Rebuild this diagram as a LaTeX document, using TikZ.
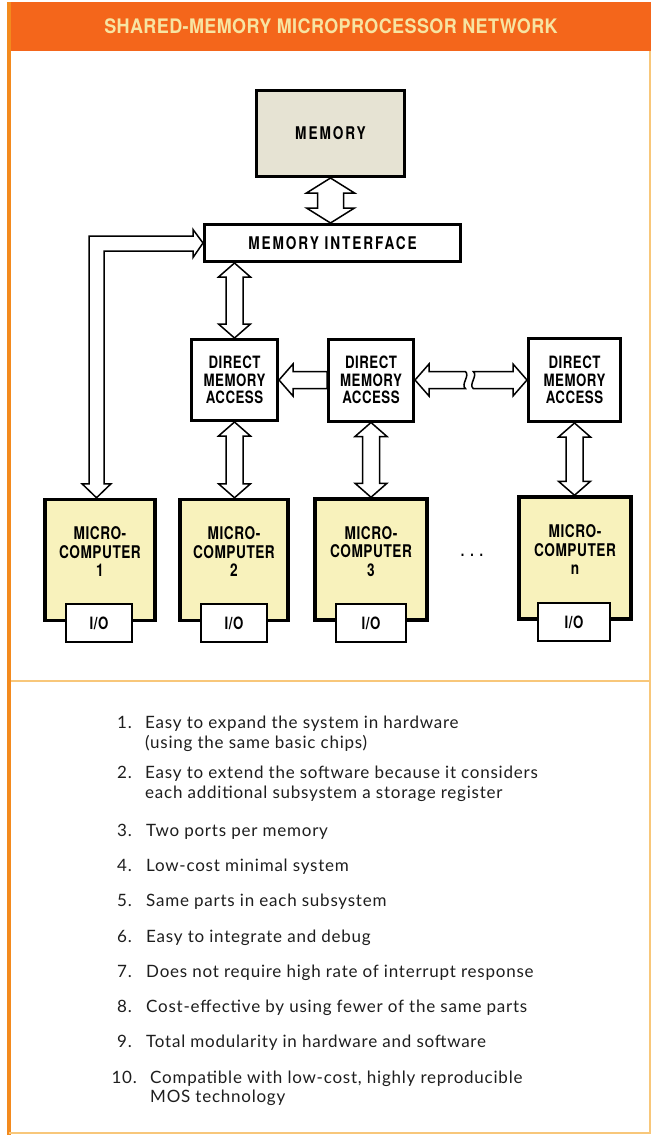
\documentclass[tikz,border=0pt]{standalone}
\usepackage{fontspec}
\setmainfont{Lato}[LetterSpace=4.5]
\newfontfamily\titlefont[FakeStretch=0.9,LetterSpace=2]{TeX Gyre Heros}
\newfontfamily\widefont[FakeStretch=0.78,LetterSpace=11]{TeX Gyre Heros}
\newfontfamily\condfont[FakeStretch=0.78,LetterSpace=3]{TeX Gyre Heros}
\usetikzlibrary{calc}
\definecolor{hdrorange}{HTML}{F4661B}
\definecolor{leftorange}{HTML}{F38A1E}
\definecolor{paleorange}{HTML}{F8C77A}
\definecolor{titleyellow}{HTML}{F7E4A2}
\definecolor{memfill}{HTML}{E6E3D3}
\definecolor{mcfill}{HTML}{F8F2BC}
\definecolor{ink}{HTML}{1E1E1E}
\tikzset{
  blk/.style={draw=black, line width=3pt, inner sep=0pt},
  mcbox/.style={blk, fill=mcfill, line width=3.5pt},
  iobox/.style={draw=black, line width=2pt, fill=white, inner sep=0pt,
    minimum width=66pt, minimum height=38pt, font=\condfont\bfseries\fontsize{17}{18}\selectfont},
  busline/.style={draw=black, line width=1.5pt, fill=white, line join=miter},
  lbl/.style={font=\condfont\bfseries\fontsize{17.5}{18.5}\selectfont, align=center, inner sep=0pt},
  dmalbl/.style={font=\condfont\bfseries\fontsize{17}{17.5}\selectfont, align=center},
  itemtext/.style={anchor=base west, inner sep=0pt, text=ink, font=\fontsize{17}{20}\selectfont},
  itemnum/.style={anchor=base east, inner sep=0pt, text=ink, font=\fontsize{17}{20}\selectfont},
}
% vertical hollow double arrow: #1 top point, #2 bottom reference, #3 head half width, #4 shaft half width, #5 head length
\newcommand\vbus[5]{%
  \coordinate (vt) at (#1);
  \coordinate (vb) at (#1 |- #2);
  \draw[busline] (vt) -- ++(#3,#5) -- ++({#4-#3},0) -- ($(vb)+(#4,-#5)$) -- ++({#3-#4},0)
    -- (vb) -- ++(-#3,-#5) -- ++({#3-#4},0) -- ($(vt)+(-#4,#5)$) -- ++({#4-#3},0) -- cycle;
}
\begin{document}
\begin{tikzpicture}[x=1pt,y=-1pt]
\useasboundingbox (0,0) rectangle (653,1136);
\fill[white] (0,0) rectangle (653,1136);
% frame
\fill[hdrorange] (8,2) rectangle (651,51);
\draw[leftorange, line width=4pt] (9,2) -- (9,1135);
\draw[paleorange, line width=1.5pt] (650,51) -- (650,1134);
\draw[paleorange, line width=2pt] (9,1133) -- (651,1133);
\draw[paleorange, line width=1.5pt] (11,681) -- (651,681);
\node[font=\titlefont\bfseries\fontsize{20}{22}\selectfont, text=titleyellow, inner sep=0pt] (title) at (331,26) {SHARED-MEMORY MICROPROCESSOR NETWORK};

% memory and interface
\node[blk, fill=memfill, minimum width=148pt, minimum height=86pt, font=\widefont\bfseries\fontsize{17.5}{18}\selectfont] (mem) at (330.5,133.5) {MEMORY};
\node[blk, fill=white, minimum width=256pt, minimum height=37pt, font=\widefont\bfseries\fontsize{17.5}{18}\selectfont] (mi) at (332.5,243) {MEMORY INTERFACE};

% DMA units
\node[blk, fill=white, minimum width=86pt, minimum height=81pt, dmalbl] (dma1) at (234.5,380) {DIRECT\\MEMORY\\ACCESS};
\node[blk, fill=white, minimum width=85pt, minimum height=82pt, dmalbl] (dma2) at (371,380) {DIRECT\\MEMORY\\ACCESS};
\node[blk, fill=white, minimum width=92pt, minimum height=83pt, dmalbl] (dman) at (574.5,380) {DIRECT\\MEMORY\\ACCESS};

% microcomputers
\node[mcbox, minimum width=110pt, minimum height=121pt] (mc1) at (100,560) {};
\node[mcbox, minimum width=108pt, minimum height=121pt] (mc2) at (234,560) {};
\node[mcbox, minimum width=112pt, minimum height=121pt] (mc3) at (371,559.5) {};
\node[mcbox, minimum width=112pt, minimum height=122pt] (mcn) at (575,558) {};
\node[lbl] (mc1t) at ($(mc1.center)+(0,-8)$) {MICRO-\\COMPUTER\\1};
\node[lbl] (mc2t) at ($(mc2.center)+(0,-8)$) {MICRO-\\COMPUTER\\2};
\node[lbl] (mc3t) at ($(mc3.center)+(0,-8)$) {MICRO-\\COMPUTER\\3};
\node[lbl] (mcnt) at ($(mcn.center)+(0,-8)$) {MICRO-\\COMPUTER\\n};
\node[iobox] (io1) at (99,623) {I/O};
\node[iobox] (io2) at (234,623) {I/O};
\node[iobox, minimum width=70pt] (io3) at (371,623) {I/O};
\node[iobox, minimum width=72pt] (ion) at (574,622) {I/O};
\node[font=\condfont\bfseries\fontsize{16}{16}\selectfont, anchor=base] (dots) at (472,556) {.\hspace{6pt}.\hspace{6pt}.};

% vertical buses
\vbus{mem.south}{mi.north}{24}{13}{15}
\vbus{dma1.north |- mi.south}{dma1.north}{16}{8.5}{14}
\vbus{dma1.south}{mc2.north}{16}{8.5}{14}
\vbus{dma2.south}{mc3.north}{16}{8.5}{14}
\vbus{dman.south}{mcn.north}{16}{8.5}{14}

% bus from memory interface down to microcomputer 1
\draw[busline] (mi.west) -- ++(-10,-13.5) -- ++(0,6.5) -| ($(mc1.north)+(-11,-14)$)
  -- ++(-7,0) -- ($(mc1.north)+(-3.5,0)$) -- ($(mc1.north)+(11,-14)$) -- ++(-7,0)
  |- ($(mi.west)+(-10,8)$) -- ++(0,6.5) -- cycle;

% horizontal buses between DMA units
\draw[busline] (dma1.east) -- ++(14,-16) -- ++(0,7.5) -- ($(dma2.west |- dma1.east)+(0,-8.5)$)
  -- ++(0,17) -- ($(dma1.east)+(14,8.5)$) -- ++(0,7.5) -- cycle;
\coordinate (brkA) at ($(dma2.east)!0.45!(dman.west)$);
\coordinate (brkB) at ($(dma2.east)!0.52!(dman.west)$);
\draw[busline] (dma2.east) -- ++(14,-16) -- ++(0,7.5) -- ($(brkA)+(0,-8.5)$)
  .. controls +(5,4) and +(-5,-4) .. ($(brkA)+(0,8.5)$) -- ($(dma2.east)+(14,8.5)$) -- ++(0,7.5) -- cycle;
\draw[busline] ($(brkB)+(0,-8.5)$) -- ($(dman.west)+(-14,-8.5)$) -- ++(0,-7.5) -- (dman.west)
  -- ++(-14,16) -- ++(0,-7.5) -- ($(brkB)+(0,8.5)$)
  .. controls +(-5,-4) and +(5,4) .. ($(brkB)+(0,-8.5)$) -- cycle;

% list
\node[itemnum] (n1) at (132,728) {1.};
\node[itemtext] (t1a) at (145,728) {Easy to expand the system in hardware};
\node[itemtext] (t1b) at (145,748) {(using the same basic chips)};
\node[itemnum] (n2) at (132,778) {2.};
\node[itemtext] (t2a) at (145,778) {Easy to extend the software because it considers};
\node[itemtext] (t2b) at (145,798) {each additional subsystem a storage register};
\node[itemnum] (n3) at (132,836) {3.};
\node[itemtext] (t3) at (146,836) {Two ports per memory};
\node[itemnum] (n4) at (132,871) {4.};
\node[itemtext] (t4) at (146,871) {Low-cost minimal system};
\node[itemnum] (n5) at (132,906) {5.};
\node[itemtext] (t5) at (146,906) {Same parts in each subsystem};
\node[itemnum] (n6) at (132,942) {6.};
\node[itemtext] (t6) at (146,942) {Easy to integrate and debug};
\node[itemnum] (n7) at (132,977) {7.};
\node[itemtext] (t7) at (146,977) {Does not require high rate of interrupt response};
\node[itemnum] (n8) at (132,1012) {8.};
\node[itemtext] (t8) at (146,1012) {Cost-effective by using fewer of the same parts};
\node[itemnum] (n9) at (132,1047) {9.};
\node[itemtext] (t9) at (146,1047) {Total modularity in hardware and software};
\node[itemnum] (n10) at (137,1083) {10.};
\node[itemtext] (t10a) at (150,1083) {Compatible with low-cost, highly reproducible};
\node[itemtext] (t10b) at (150,1102) {MOS technology};
\end{tikzpicture}
\end{document}
